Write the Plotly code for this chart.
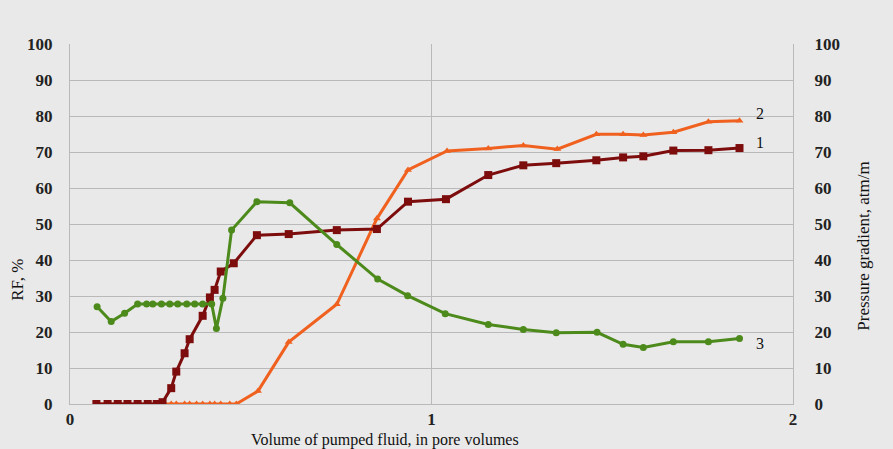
import plotly.graph_objects as go

# Pore volumes injected and measured responses
pv_rf = [0.073, 0.104, 0.132, 0.159, 0.187, 0.215, 0.240, 0.256, 0.280, 0.294,
         0.317, 0.331, 0.367, 0.387, 0.400, 0.417, 0.453, 0.517, 0.605, 0.738,
         0.849, 0.935, 1.040, 1.157, 1.254, 1.345, 1.456, 1.530, 1.586, 1.669,
         1.766, 1.852]
rf_1 = [0, 0, 0, 0, 0, 0, 0, 0.5, 4.4, 9.0,
        14.1, 18.0, 24.5, 29.6, 31.7, 36.8, 39.1, 46.9, 47.2, 48.3,
        48.6, 56.2, 56.9, 63.6, 66.3, 66.9, 67.7, 68.5, 68.8, 70.4,
        70.5, 71.1]

pv_rf2 = [0.073, 0.104, 0.132, 0.159, 0.187, 0.215, 0.240, 0.256, 0.280, 0.294,
          0.317, 0.331, 0.350, 0.367, 0.387, 0.400, 0.417, 0.442, 0.460, 0.520,
          0.605, 0.738, 0.849, 0.935, 1.043, 1.157, 1.254, 1.348, 1.456, 1.530,
          1.586, 1.669, 1.766, 1.852]
rf_2 = [0, 0, 0, 0, 0, 0, 0, 0, 0, 0,
        0, 0, 0, 0, 0, 0, 0, 0, 0, 3.6,
        17.2, 27.7, 51.5, 65.0, 70.3, 71.0, 71.8, 70.8, 74.9, 74.9,
        74.7, 75.5, 78.4, 78.7]

pv_dp = [0.075, 0.114, 0.151, 0.187, 0.212, 0.229, 0.253, 0.276, 0.298, 0.323,
         0.345, 0.367, 0.392, 0.405, 0.423, 0.447, 0.517, 0.608, 0.738, 0.851,
         0.934, 1.038, 1.157, 1.254, 1.345, 1.458, 1.530, 1.586, 1.669, 1.766,
         1.852]
grad_3 = [27.0, 22.9, 25.2, 27.8, 27.8, 27.8, 27.8, 27.8, 27.8, 27.8,
          27.8, 27.8, 27.8, 21.0, 29.4, 48.3, 56.2, 55.9, 44.3, 34.7,
          30.1, 25.1, 22.1, 20.7, 19.8, 19.9, 16.6, 15.7, 17.3, 17.3,
          18.2]

curve_labels = ["1", "2", "3"]
y_ticks = list(range(0, 101, 10))
x_ticks = [0, 1, 2]

RED = "#7d0c0c"
ORANGE = "#f0611f"
GREEN = "#4d8a1c"
BG = "#e9e9e9"
GRID = "#b9b9b9"
SERIF = "Liberation Serif, Times New Roman, serif"

fig = go.Figure()
# orange first so the red zero segment sits on top of it
fig.add_trace(go.Scatter(
    x=pv_rf2, y=rf_2, mode="lines+markers",
    line=dict(color=ORANGE, width=3),
    marker=dict(symbol="triangle-up", size=7, color=ORANGE),
    showlegend=False))
fig.add_trace(go.Scatter(
    x=pv_dp, y=grad_3, mode="lines+markers", yaxis="y2",
    line=dict(color=GREEN, width=3),
    marker=dict(symbol="circle", size=7, color=GREEN),
    showlegend=False))
fig.add_trace(go.Scatter(
    x=pv_rf, y=rf_1, mode="lines+markers",
    line=dict(color=RED, width=3),
    marker=dict(symbol="square", size=8, color=RED),
    showlegend=False))

tick_font = dict(family=SERIF, size=17, color="#222222", weight="bold")

fig.update_layout(
    width=893, height=449,
    margin=dict(l=70, r=100, t=44, b=45),
    paper_bgcolor=BG, plot_bgcolor=BG,
    xaxis=dict(range=[0, 2], tickvals=x_ticks, ticktext=[str(v) for v in x_ticks],
               showgrid=True, gridcolor=GRID, gridwidth=1,
               showline=True, linecolor=GRID, linewidth=1,
               zeroline=False, tickfont=tick_font, ticks="",
               ticklabelstandoff=0),
    yaxis=dict(range=[0, 100], tickvals=y_ticks,
               showgrid=True, gridcolor=GRID, gridwidth=1,
               showline=True, linecolor=GRID, linewidth=1,
               zeroline=False, tickfont=tick_font, ticks="",
               ticklabelstandoff=13),
    yaxis2=dict(range=[0, 100], tickvals=y_ticks, overlaying="y", side="right",
                showgrid=False, showline=True, linecolor=GRID, linewidth=1,
                zeroline=False, tickfont=tick_font, ticks="",
                ticklabelstandoff=17),
)

fig.add_annotation(text="Volume of pumped fluid, in pore volumes",
                   xref="paper", yref="paper", x=0.435, y=-0.1,
                   xanchor="center", yanchor="middle", showarrow=False,
                   font=dict(family=SERIF, size=16, color="#111111"))
fig.add_annotation(text="RF, %", xref="paper", yref="paper",
                   x=-0.072, y=0.345, xanchor="center", yanchor="middle",
                   textangle=-90, showarrow=False, font=dict(family=SERIF, size=17, color="#111111"))
fig.add_annotation(text="Pressure gradient, atm/m", xref="paper", yref="paper",
                   x=1.097, y=0.44, xanchor="center", yanchor="middle",
                   textangle=-90, showarrow=False, font=dict(family=SERIF, size=17, color="#111111"))

# curve numbers next to the last points
ends = [(pv_rf[-1], rf_1[-1] + 1.5, "y"),
        (pv_rf2[-1], rf_2[-1] + 2.0, "y"),
        (pv_dp[-1], grad_3[-1] - 1.5, "y2")]
for lab, (xe, ye, yr) in zip(curve_labels, ends):
    fig.add_annotation(text=lab, x=xe, y=ye, xref="x", yref=yr,
                       xanchor="left", yanchor="middle", xshift=14,
                       showarrow=False, font=dict(family=SERIF, size=16, color="#111111"))

fig.write_html("out.html")
